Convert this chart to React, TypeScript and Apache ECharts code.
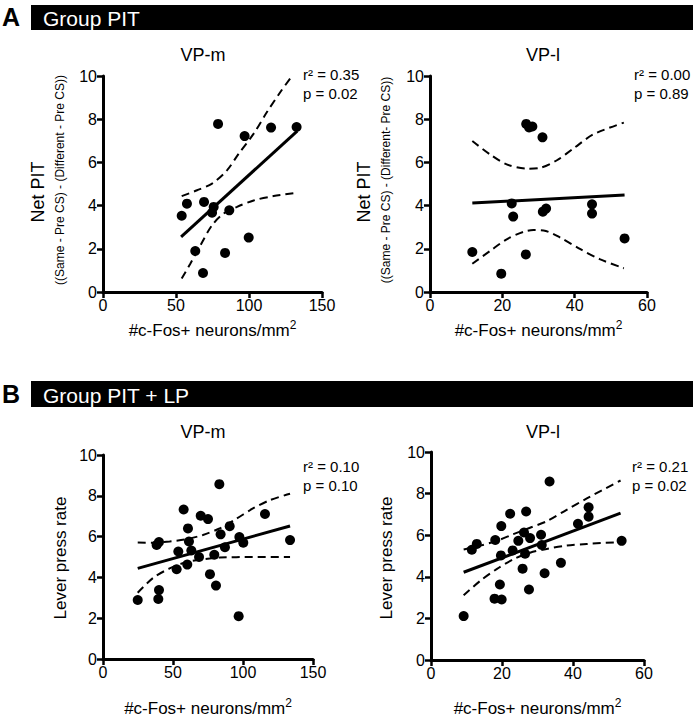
import React, { useEffect, useRef } from "react";
import * as echarts from "echarts";

const FONT = '"Liberation Sans", Arial, Helvetica, sans-serif';

// ---- Panel A, VP-m (Group PIT) ----
const aMx = [53.9, 57.5, 63.2, 68.5, 69.2, 74.7, 75.8, 78.8, 83.6, 86.5, 97.0, 99.8, 115.1, 132.6];
const aMy = [3.53, 4.09, 1.9, 0.88, 4.17, 3.67, 3.94, 7.78, 1.81, 3.78, 7.22, 2.52, 7.61, 7.64];
const aMfit = [[53.5, 2.55], [133, 7.45]];
const aMup = [[53.9, 4.44], [64.4, 4.71], [74.7, 5.02], [84.9, 5.63], [92.9, 6.4], [103.2, 7.33], [112.3, 8.33], [121.5, 9.26], [129.5, 10.0]];
const aMlo = [[53.9, 0.62], [59.8, 1.31], [66.7, 2.16], [74.7, 3.09], [82.6, 3.63], [91.8, 3.94], [103.2, 4.24], [116.9, 4.44], [131.7, 4.58]];

// ---- Panel A, VP-l (Group PIT) ----
const aLx = [11.7, 19.7, 22.6, 23.0, 26.5, 26.6, 27.4, 28.3, 31.1, 31.2, 32.1, 44.8, 44.8, 53.8];
const aLy = [1.85, 0.85, 4.1, 3.49, 1.74, 7.78, 7.62, 7.66, 7.16, 3.72, 3.86, 4.06, 3.63, 2.48];
const aLfit = [[11.7, 4.12], [53.8, 4.49]];
const aLup = [[11.7, 6.99], [16.6, 6.37], [21.2, 5.91], [26.8, 5.71], [30.5, 5.75], [35.1, 6.1], [39.7, 6.65], [45.2, 7.3], [53.6, 7.84]];
const aLlo = [[11.7, 1.31], [16.6, 1.9], [21.2, 2.44], [25.9, 2.79], [28.6, 2.87], [31.4, 2.85], [36.0, 2.52], [41.6, 1.98], [47.1, 1.51], [53.6, 1.1]];

// ---- Panel B, VP-m (Group PIT + LP) ----
const bMx = [24.8, 38.3, 40.0, 40.0, 39.5, 53.8, 52.6, 57.6, 60.7, 60.2, 61.4, 63.1, 68.6, 69.8, 75.0, 76.4, 79.5, 80.7, 83.1, 84.0, 87.1, 90.5, 96.9, 97.4, 100.2, 115.7, 133.6];
const bMy = [2.89, 5.59, 5.73, 3.38, 2.94, 5.27, 4.4, 7.33, 6.4, 4.63, 5.76, 5.32, 5.0, 7.02, 6.86, 4.16, 5.11, 3.6, 8.57, 6.11, 5.48, 6.51, 2.1, 5.98, 5.7, 7.11, 5.83];
const bMfit = [[24.8, 4.44], [133.6, 6.52]];
const bMup = [[24.8, 5.71], [35.7, 5.7], [47.6, 5.76], [59.5, 5.87], [71.4, 6.08], [83.3, 6.4], [95.2, 6.87], [107.1, 7.38], [119.0, 7.78], [133.6, 8.1]];
const bMlo = [[24.8, 3.25], [35.7, 3.97], [47.6, 4.44], [59.5, 4.75], [71.4, 4.89], [83.3, 4.97], [107.0, 5.0], [133.6, 5.0]];

// ---- Panel B, VP-l (Group PIT + LP) ----
const bLx = [9.2, 11.5, 12.9, 18.1, 17.9, 19.9, 19.4, 19.7, 19.8, 22.3, 23.0, 24.6, 25.8, 26.2, 26.5, 26.8, 27.9, 27.6, 31.0, 31.2, 32.0, 33.4, 36.6, 41.4, 44.4, 44.4, 53.7];
const bLy = [2.11, 5.3, 5.58, 5.77, 2.95, 2.91, 3.63, 5.03, 6.44, 7.03, 5.27, 5.73, 4.39, 6.13, 5.11, 7.14, 5.86, 3.39, 6.02, 5.53, 4.17, 8.58, 4.67, 6.55, 6.89, 7.34, 5.73];
const bLfit = [[9.2, 4.22], [53.4, 7.06]];
const bLup = [[9.2, 5.31], [13.9, 5.5], [18.6, 5.73], [23.2, 6.05], [27.9, 6.36], [32.6, 6.67], [38.2, 7.22], [43.9, 7.77], [53.4, 8.63]];
const bLlo = [[9.2, 3.11], [13.9, 3.81], [18.6, 4.38], [23.2, 4.84], [27.9, 5.16], [32.6, 5.34], [38.2, 5.5], [43.9, 5.58], [53.4, 5.67]];

// ---- Texts ----
const headerA = "Group PIT";
const headerB = "Group PIT + LP";
const titles = ["VP-m", "VP-l", "VP-m", "VP-l"];
const stats = [
  ["r² = 0.35", "p = 0.02"],
  ["r² = 0.00", "p = 0.89"],
  ["r² = 0.10", "p = 0.10"],
  ["r² = 0.21", "p = 0.02"],
];
const xTitle = "#c-Fos+ neurons/mm{s|2}";
const netPit = "Net PIT";
const subLeft = "((Same - Pre CS) - (Different - Pre CS))";
const subRight = "((Same - Pre CS) - (Different- Pre CS))";
const leverTitle = "Lever press rate";
const xMaxes = [150, 60, 150, 60];
const xIntervals = [50, 20, 50, 20];

export default function App() {
  const ref = useRef<HTMLDivElement>(null);
  useEffect(() => {
    const chart = echarts.init(ref.current!, null, { renderer: "svg" });
    const panels = [
      { grid: { left: 103, top: 76, width: 219, height: 216 }, xs: aMx, ys: aMy, fit: aMfit, up: aMup, lo: aMlo, nameGap: 27 },
      { grid: { left: 430, top: 76, width: 217, height: 216 }, xs: aLx, ys: aLy, fit: aLfit, up: aLup, lo: aLlo, nameGap: 27 },
      { grid: { left: 103, top: 455, width: 210, height: 210 }, xs: bMx, ys: bMy, fit: bMfit, up: bMup, lo: bMlo, nameGap: 38 },
      { grid: { left: 431, top: 452, width: 213, height: 214 }, xs: bLx, ys: bLy, fit: bLfit, up: bLup, lo: bLlo, nameGap: 37 },
    ];
    const grids: any[] = [];
    const xAxes: any[] = [];
    const yAxes: any[] = [];
    const series: any[] = [];
    panels.forEach((p, i) => {
      grids.push({ ...p.grid, containLabel: false });
      xAxes.push({
        gridIndex: i, type: "value", min: 0, max: xMaxes[i], interval: xIntervals[i],
        axisLine: { show: true, onZero: false, lineStyle: { color: "#000", width: 3 } },
        axisTick: { show: true, length: 6, lineStyle: { color: "#000", width: 2.5 } },
        axisLabel: { color: "#000", fontSize: 16, fontFamily: FONT, margin: 5 },
        splitLine: { show: false },
        name: xTitle, nameLocation: "middle", nameGap: p.nameGap,
        nameTextStyle: {
          color: "#000", fontSize: 17, fontFamily: FONT, lineHeight: 22,
          rich: { s: { fontSize: 12, fontFamily: FONT, color: "#000", verticalAlign: "top", lineHeight: 22 } },
        },
      });
      yAxes.push({
        gridIndex: i, type: "value", min: 0, max: 10, interval: 2,
        axisLine: { show: true, onZero: false, lineStyle: { color: "#000", width: 3 } },
        axisTick: { show: true, length: 6, lineStyle: { color: "#000", width: 2.5 } },
        axisLabel: { color: "#000", fontSize: 16, fontFamily: FONT, margin: 6 },
        splitLine: { show: false },
      });
      const dashStyle = { color: "#000", width: 2, type: [8, 5] };
      series.push({
        type: "line", xAxisIndex: i, yAxisIndex: i, data: p.up, smooth: 0.3, symbol: "none",
        lineStyle: dashStyle, silent: true,
      });
      series.push({
        type: "line", xAxisIndex: i, yAxisIndex: i, data: p.lo, smooth: 0.3, symbol: "none",
        lineStyle: dashStyle, silent: true,
      });
      series.push({
        type: "line", xAxisIndex: i, yAxisIndex: i, data: p.fit, symbol: "none",
        lineStyle: { color: "#000", width: 3 }, silent: true,
      });
      series.push({
        type: "scatter", xAxisIndex: i, yAxisIndex: i,
        data: p.xs.map((x, k) => [x, p.ys[k]]),
        symbol: "circle", symbolSize: 10, itemStyle: { color: "#000", opacity: 1 }, z: 5,
      });
    });

    const txt = (text: string, x: number, y: number, size: number, opts: any = {}) => ({
      type: "text", x, y, rotation: opts.rotation || 0, z: 10,
      style: {
        text, fill: opts.fill || "#000",
        font: `${opts.bold ? "bold " : ""}${size}px ${FONT}`,
        align: opts.align || "center", textAlign: opts.align || "center",
        verticalAlign: "middle", textVerticalAlign: "middle",
      },
    });

    const graphic: any[] = [
      { type: "rect", shape: { x: 31, y: 5, width: 662, height: 25 }, style: { fill: "#000" } },
      { type: "rect", shape: { x: 31, y: 381, width: 662, height: 26 }, style: { fill: "#000" } },
      txt("A", 11, 17, 25, { bold: true }),
      txt("B", 11, 394, 25, { bold: true }),
      txt(headerA, 43, 18, 21, { align: "left", fill: "#fff" }),
      txt(headerB, 43, 395, 21, { align: "left", fill: "#fff" }),
      txt(titles[0], 203, 55, 18),
      txt(titles[1], 543, 55, 18),
      txt(titles[2], 203, 432, 18),
      txt(titles[3], 543, 432, 18),
      txt(stats[0][0], 303, 74, 15, { align: "left" }),
      txt(stats[0][1], 303, 93, 15, { align: "left" }),
      txt(stats[1][0], 634, 74, 15, { align: "left" }),
      txt(stats[1][1], 634, 93, 15, { align: "left" }),
      txt(stats[2][0], 303, 466, 15, { align: "left" }),
      txt(stats[2][1], 303, 485, 15, { align: "left" }),
      txt(stats[3][0], 632, 466, 15, { align: "left" }),
      txt(stats[3][1], 632, 485, 15, { align: "left" }),
      txt(netPit, 38, 192, 18, { rotation: Math.PI / 2 }),
      txt(subLeft, 60, 180, 12, { rotation: Math.PI / 2 }),
      txt(netPit, 364, 192, 18, { rotation: Math.PI / 2 }),
      txt(subRight, 386, 180, 12, { rotation: Math.PI / 2 }),
      txt(leverTitle, 60, 558, 17, { rotation: Math.PI / 2 }),
      txt(leverTitle, 386, 558, 17, { rotation: Math.PI / 2 }),
    ];

    chart.setOption({
      animation: false,
      backgroundColor: "#fff",
      textStyle: { fontFamily: FONT },
      grid: grids,
      xAxis: xAxes,
      yAxis: yAxes,
      series,
      graphic,
    });
    return () => chart.dispose();
  }, []);
  return (
    <div
      ref={ref}
      style={{ position: "absolute", left: 0, top: 0, width: 698, height: 720, background: "#fff" }}
    />
  );
}
